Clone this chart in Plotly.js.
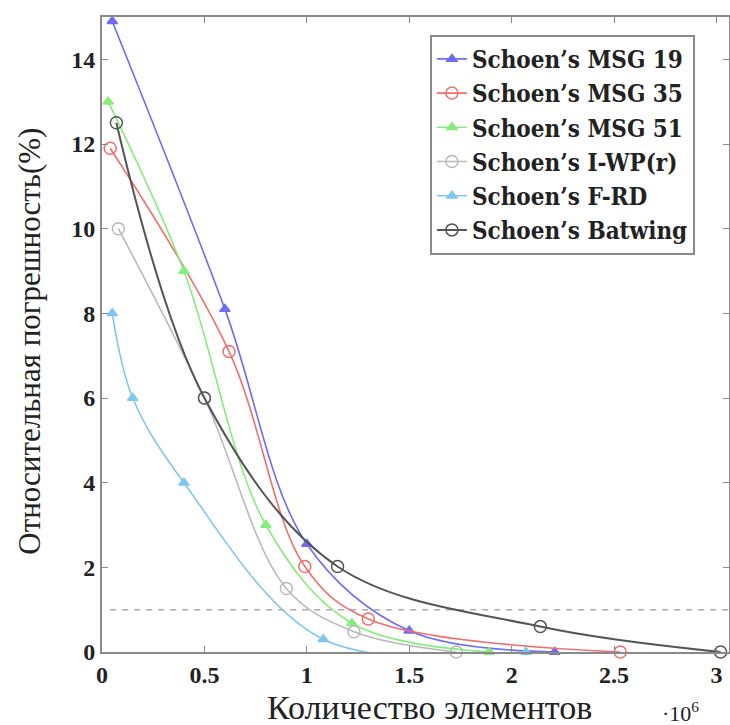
<!DOCTYPE html>
<html>
<head>
<meta charset="utf-8">
<script src="https://cdn.plot.ly/plotly-3.0.1.min.js"></script>
<style>html,body{margin:0;padding:0;background:#fff;}#chart{width:730px;height:725px;}</style>
</head>
<body>
<div id="chart"></div>
<script>
// ---- data (x in units of 10^6 elements, y = relative error %) ----
const seriesNames = ["Schoen’s MSG 19", "Schoen’s MSG 35", "Schoen’s MSG 51", "Schoen’s I-WP(r)", "Schoen’s F-RD", "Schoen’s Batwing"];
const xMSG19 = [0.05, 0.6, 1.0, 1.5, 2.21];
const yMSG19 = [14.9, 8.1, 2.55, 0.5, 0];
const xMSG35 = [0.04, 0.62, 0.99, 1.3, 2.53];
const yMSG35 = [11.9, 7.1, 2.02, 0.78, 0];
const xMSG51 = [0.03, 0.4, 0.8, 1.22, 1.89];
const yMSG51 = [13.0, 9.0, 3.0, 0.68, 0];
const xIWP = [0.08, 0.5, 0.9, 1.23, 1.73];
const yIWP = [10.0, 6.0, 1.5, 0.48, 0];
const xFRD = [0.05, 0.15, 0.4, 1.08, 2.07];
const yFRD = [8.0, 6.0, 4.0, 0.3, 0];
const xBatwing = [0.07, 0.5, 1.15, 2.14, 3.02];
const yBatwing = [12.5, 6.0, 2.02, 0.6, 0];
const thresholdX = [0.04, 3.06];
const thresholdY = [1, 1];
const xTickVals = [0, 0.5, 1, 1.5, 2, 2.5, 3];
const xTickText = ["0", "0.5", "1", "1.5", "2", "2.5", "3"];
const yTickVals = [0, 2, 4, 6, 8, 10, 12, 14];
const yTickText = ["0", "2", "4", "6", "8", "10", "12", "14"];

const serif = "Liberation Serif, DejaVu Serif, serif";
const legendSerif = "DejaVu Serif Condensed, DejaVu Serif, serif";
const colors = ["#6f6cf2", "#ef6f6f", "#86ec7c", "#b9b9b9", "#7fc6ee", "#555555"];
const symbols = ["triangle-up", "circle-open", "triangle-up", "circle-open", "triangle-up", "circle-open"];
const xs = [xMSG19, xMSG35, xMSG51, xIWP, xFRD, xBatwing];
const ys = [yMSG19, yMSG35, yMSG51, yIWP, yFRD, yBatwing];

const traces = [{
  x: thresholdX, y: thresholdY, mode: "lines", showlegend: false, hoverinfo: "skip",
  line: {color: "#aaaaaa", width: 1.5, dash: "6px,6px"}
}];
for (let i = 0; i < seriesNames.length; i++) {
  const isCircle = symbols[i].indexOf("circle") === 0;
  traces.push({
    x: xs[i], y: ys[i], name: seriesNames[i], type: "scatter", mode: "lines+markers",
    cliponaxis: false,
    line: {color: colors[i], width: i === 5 ? 2 : 1.6, shape: "spline", smoothing: 1},
    marker: {symbol: symbols[i], size: isCircle ? 12 : 9, color: colors[i],
             line: {color: colors[i], width: 1.5}}
  });
}

const axisCommon = {
  showgrid: false, zeroline: false, showline: true, linecolor: "#8a8a8a", linewidth: 2,
  mirror: "ticks", ticks: "inside", ticklen: 6, tickcolor: "#8a8a8a", tickwidth: 1,
  tickfont: {family: serif, size: 24, color: "#222", weight: "bold"}
};

const layout = {
  width: 730, height: 725,
  margin: {l: 102, r: 1, t: 17, b: 73},
  paper_bgcolor: "#fff", plot_bgcolor: "#fff",
  showlegend: true,
  xaxis: Object.assign({}, axisCommon, {range: [0, 3.061], tickvals: xTickVals, ticktext: xTickText}),
  yaxis: Object.assign({}, axisCommon, {range: [0, 15], tickvals: yTickVals, ticktext: yTickText}),
  legend: {
    x: 0.523, y: 0.972, xanchor: "left", yanchor: "top",
    bgcolor: "#fff", bordercolor: "#8a8a8a", borderwidth: 2,
    font: {family: legendSerif, size: 24, color: "#222", weight: "bold"},
    tracegroupgap: 0
  },
  annotations: [
    {xref: "paper", yref: "paper", x: 0.523, y: -0.088, xanchor: "center", yanchor: "middle",
     text: "Количество элементов", showarrow: false, font: {family: serif, size: 34, color: "#222"}},
    {xref: "paper", yref: "paper", x: 0.922, y: -0.094, xanchor: "center", yanchor: "middle",
     text: "·10<sup>6</sup>", showarrow: false, font: {family: serif, size: 22, color: "#222"}},
    {xref: "paper", yref: "paper", x: -0.115, y: 0.49, xanchor: "center", yanchor: "middle",
     textangle: -90, text: "Относительная погрешность(%)", showarrow: false,
     font: {family: serif, size: 31, color: "#222"}}
  ]
};

Plotly.newPlot("chart", traces, layout, {displayModeBar: false, staticPlot: true});
</script>
</body>
</html>
